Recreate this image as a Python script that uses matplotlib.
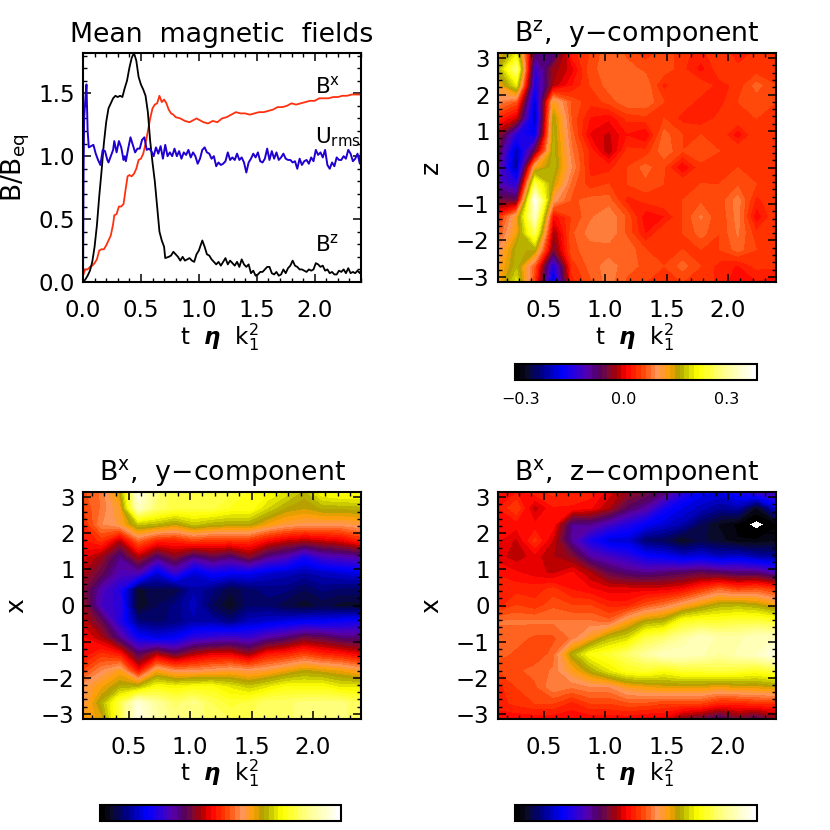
#!/usr/bin/env python3
"""Mean magnetic fields and butterfly diagrams, four panels."""

import numpy as np
import matplotlib
matplotlib.use("Agg")
import matplotlib.pyplot as plt
from matplotlib.colors import LinearSegmentedColormap, BoundaryNorm
from matplotlib.cm import ScalarMappable
from matplotlib.ticker import MultipleLocator

plt.rcParams['font.family'] = ['DejaVu Sans']
plt.rcParams['mathtext.fontset'] = 'dejavusans'
plt.rcParams['mathtext.default'] = 'regular'

# time series
bz_t = [0, .02, .04, .06, .08, .10, .12, .14, .16, .18, .20, .22, .24, .26, .28, .30, .32, .34, .36, .38, .40, .42, .44, .46, .48, .50, .52, .54, .56, .58, .60, .62, .64, .66, .68, .70, .71, .74, .76, .78, .80, .82, .84, .86, .88, .90, .92, .94, .96, .98, 1.0, 1.03, 1.05, 1.07, 1.09, 1.11, 1.13, 1.15, 1.17, 1.19, 1.21, 1.23, 1.25, 1.27, 1.29, 1.31, 1.33, 1.35, 1.37, 1.39, 1.41, 1.43, 1.45, 1.47, 1.49, 1.51, 1.53, 1.55, 1.57, 1.59, 1.61, 1.63, 1.65, 1.67, 1.69, 1.71, 1.73, 1.75, 1.77, 1.79, 1.81, 1.83, 1.85, 1.87, 1.89, 1.91, 1.93, 1.95, 1.97, 1.99, 2.01, 2.03, 2.05, 2.07, 2.09, 2.11, 2.13, 2.15, 2.17, 2.19, 2.21, 2.23, 2.25, 2.27, 2.29, 2.31, 2.33, 2.35, 2.37, 2.39, 2.40]
bz_v = [0, .02, .05, .09, .16, .28, .45, .68, .88, 1.1, 1.27, 1.38, 1.42, 1.46, 1.48, 1.47, 1.48, 1.47, 1.54, 1.6, 1.7, 1.78, 1.82, 1.76, 1.63, 1.57, 1.53, 1.48, 1.35, 1.12, .95, .8, .6, .4, .33, .28, .19, .2, .21, .24, .22, .2, .17, .2, .17, .18, .19, .17, .16, .22, .25, .33, .28, .22, .21, .18, .16, .14, .16, .13, .16, .19, .14, .17, .15, .13, .16, .12, .18, .14, .12, .14, .07, .09, .05, .06, .08, .08, .1, .12, .12, .07, .06, .08, .05, .06, .1, .07, .11, .13, .17, .13, .12, .1, .1, .09, .08, .1, .09, .1, .15, .14, .12, .13, .09, .1, .07, .08, .06, .06, .09, .08, .1, .07, .11, .07, .08, .07, .09, .07, .09]

bx_t = [0, .02, .04, .06, .08, .10, .12, .14, .16, .18, .20, .22, .24, .26, .27, .29, .31, .33, .35, .37, .385, .40, .42, .44, .46, .48, .50, .52, .54, .56, .58, .60, .62, .64, .66, .68, .70, .72, .74, .76, .78, .80, .84, .88, .92, .96, .98, 1.0, 1.04, 1.08, 1.12, 1.16, 1.20, 1.24, 1.28, 1.32, 1.36, 1.40, 1.44, 1.48, 1.52, 1.56, 1.60, 1.64, 1.68, 1.72, 1.76, 1.80, 1.84, 1.88, 1.92, 1.96, 2.0, 2.04, 2.08, 2.12, 2.16, 2.20, 2.24, 2.28, 2.32, 2.36, 2.40]
bx_v = [.05, .1, .1, .12, .13, .15, .18, .25, .26, .26, .29, .33, .37, .46, .53, .54, .6, .6, .62, .75, .84, .85, .84, .86, .9, .97, .98, 1.02, 1.1, 1.2, 1.3, 1.38, 1.41, 1.42, 1.48, 1.43, 1.45, 1.42, 1.37, 1.34, 1.33, 1.31, 1.3, 1.28, 1.27, 1.29, 1.3, 1.29, 1.27, 1.26, 1.28, 1.27, 1.3, 1.31, 1.33, 1.35, 1.34, 1.34, 1.33, 1.34, 1.35, 1.35, 1.36, 1.37, 1.39, 1.39, 1.4, 1.42, 1.41, 1.42, 1.43, 1.44, 1.44, 1.46, 1.46, 1.46, 1.47, 1.47, 1.48, 1.48, 1.49, 1.49, 1.49]

u_t = [0, .005, .01, .02, .03, .04, .05, .07, .09, .11, .13, .15, .17, .19, .21, .22, .24, .26, .27, .29, .31, .33, .35, .36, .37, .39, .41, .43, .45, .47, .49, .51, .53, .55, .57, .59, .61, .63, .65, .67, .69, .71, .73, .75, .77, .79, .81, .83, .85, .87, .89, .91, .93, .95, .97, .99, 1.01, 1.03, 1.05, 1.07, 1.09, 1.11, 1.13, 1.15, 1.17, 1.19, 1.21, 1.23, 1.25, 1.27, 1.29, 1.31, 1.33, 1.35, 1.37, 1.39, 1.41, 1.43, 1.45, 1.47, 1.49, 1.51, 1.53, 1.55, 1.57, 1.59, 1.61, 1.63, 1.65, 1.67, 1.69, 1.71, 1.73, 1.75, 1.77, 1.79, 1.81, 1.83, 1.85, 1.87, 1.89, 1.91, 1.93, 1.95, 1.97, 1.99, 2.01, 2.03, 2.05, 2.07, 2.09, 2.11, 2.13, 2.15, 2.17, 2.19, 2.21, 2.23, 2.25, 2.27, 2.29, 2.31, 2.33, 2.35, 2.37, 2.39, 2.40]
u_v = [0, .9, 1.3, 1.45, 1.57, 1.2, 1.07, 1.08, 1.09, 1.02, .97, .93, 1.05, 1.04, .97, .95, 1.0, 1.05, 1.12, 1.03, 1.12, 1.07, .97, 1.0, .96, 1.06, 1.15, 1.09, 1.03, 1.06, 1.06, 1.13, 1.15, 1.05, 1.06, 1.04, 1.0, 1.07, 1.02, 1.08, .98, 1.09, 1.0, 1.03, 1.0, 1.06, 1.0, 1.04, .98, 1.03, 1.01, 1.05, .99, 1.03, 1.0, .94, .98, 1.05, 1.07, 1.03, 1.02, .98, 1.0, .92, .95, .93, .94, .96, 1.03, .97, .99, .97, 1.02, .97, .99, .95, .87, .95, .98, 1.02, .99, 1.03, .96, .95, .98, 1.06, .97, 1.04, .98, 1.03, .97, .99, 1.02, .98, .97, .97, .95, .96, .9, .98, .93, .96, .97, .94, .99, .96, 1.05, 1.01, 1.03, .99, 1.05, .93, .9, .95, .92, .99, .97, .97, 1.0, .98, 1.05, 1.02, .96, .98, 1.02, .94, 1.04]

# contour panels: shared grid, rows run from the top of the panel down
times = [.13, .28, .43, .58, .73, .88, 1.03, 1.18, 1.33, 1.48, 1.63, 1.78, 1.93, 2.08, 2.23, 2.39]
heights = [3.14, 2.7, 2.25, 1.8, 1.35, .9, .45, 0, -.45, -.9, -1.35, -1.8, -2.25, -2.7, -3.14]

bz_y = [
    [.12, .2, -.08, -.1, .03, .05, .075, .06, .04, .06, .04, .03, .05, .025, .04, .04],
    [.16, .28, -.14, -.03, 0, .06, .07, .07, .06, .06, .04, .015, .045, .04, .04, .05],
    [.12, .2, -.16, -.02, .02, .05, .07, .075, .075, .03, .05, .045, .03, .04, .07, .05],
    [.09, .06, -.2, .12, .06, .04, .055, .075, .075, .05, .045, .03, .03, .05, .055, .05],
    [.03, -.01, -.22, .16, .06, .02, .01, .04, .045, .05, .03, .025, .04, .05, .05, .05],
    [-.03, -.15, -.18, .165, .07, .005, -.01, .02, .005, .07, .05, .05, .05, .01, .05, .05],
    [-.06, -.22, -.06, .17, .08, .03, -.02, .04, .04, .075, .05, .06, .05, .05, .05, .05],
    [-.09, -.23, .12, .17, .09, .03, .03, .05, .07, .05, .005, .045, .05, .05, .05, .05],
    [-.11, -.15, .25, .15, .07, .04, .05, .05, .06, .05, .05, .05, .05, .06, .05, .05],
    [-.05, -.06, .37, .1, .06, .07, .07, .03, .04, .05, .05, .06, .055, .085, .03, .05],
    [.03, .12, .33, .01, .05, .075, .09, .06, .01, .02, .05, .08, .05, .085, .01, .05],
    [.06, .13, .26, -.03, .06, .085, .09, .06, .02, .05, .05, .07, .05, .08, .04, .05],
    [.09, .165, .16, -.05, .06, .07, .07, .075, .05, .05, .05, .05, .05, .07, .05, .05],
    [.11, .17, .06, -.16, .04, .07, .085, .07, .06, .05, .07, .05, .03, .02, .04, .04],
    [.12, .2, .04, -.2, .03, .06, .085, .06, .05, .05, .05, .05, .03, .01, .02, .01],
]

bx_y = [
    [.06, .08, .15, .36, .28, .25, .26, .25, .25, .23, .22, .2, .17, .22, .23, .23],
    [.05, .08, .12, .33, .27, .25, .25, .25, .23, .23, .19, .16, .15, .165, .165, .17],
    [.03, .09, .11, .18, .17, .15, .18, .165, .16, .16, .13, .11, .1, .1, .1, .11],
    [.02, .04, -.02, .07, .03, .03, .05, .04, .04, .04, .01, -.01, -.02, -.01, 0, .03],
    [0, -.03, -.09, -.02, -.08, -.04, -.09, -.06, -.08, -.04, -.09, -.11, -.16, -.12, -.11, -.1],
    [-.02, -.06, -.11, -.11, -.2, -.13, -.2, -.17, -.18, -.18, -.2, -.21, -.22, -.21, -.2, -.19],
    [-.04, -.11, -.15, -.28, -.26, -.27, -.22, -.24, -.27, -.25, -.24, -.24, -.26, -.24, -.25, -.25],
    [-.03, -.12, -.14, -.29, -.26, -.24, -.21, -.26, -.29, -.25, -.25, -.27, -.28, -.27, -.28, -.28],
    [-.01, -.06, -.15, -.24, -.25, -.24, -.22, -.22, -.24, -.21, -.2, -.19, -.18, -.18, -.17, -.16],
    [.01, -.02, -.09, -.17, -.19, -.18, -.14, -.13, -.12, -.13, -.1, -.08, -.05, -.06, -.08, -.08],
    [.01, .04, .02, -.07, -.02, -.06, -.02, 0, 0, -.03, .02, .03, .05, .03, .02, 0],
    [.05, .09, .12, .01, .12, .09, .09, .1, .11, .1, .11, .13, .15, .14, .13, .11],
    [.1, .13, .165, .17, .22, .21, .22, .22, .2, .18, .2, .22, .22, .22, .2, .2],
    [.1, .165, .25, .35, .3, .27, .29, .26, .24, .25, .27, .27, .28, .28, .28, .26],
    [.12, .14, .25, .36, .31, .28, .28, .27, .26, .26, .27, .27, .28, .29, .28, .26],
]

bx_z = [
    [.01, .02, .03, .04, .03, .03, 0, -.03, -.05, -.08, -.14, -.18, -.19, -.16, -.13, -.11],
    [.02, .05, -.015, .02, .02, .01, -.02, -.07, -.1, -.16, -.19, -.21, -.23, -.22, -.29, -.2],
    [.015, .015, .01, .015, -.09, -.09, -.12, -.15, -.18, -.2, -.22, -.26, -.29, -.305, -.322, -.305],
    [.01, -.01, .04, -.01, -.1, -.16, -.2, -.2, -.25, -.26, -.29, -.27, -.28, -.3, -.3, -.29],
    [0, -.015, 0, -.02, -.04, -.1, -.12, -.14, -.17, -.18, -.2, -.19, -.21, -.2, -.22, -.23],
    [.02, .01, 0, -.01, .01, -.02, -.06, -.08, -.09, -.08, -.07, -.06, -.07, -.08, -.08, -.11],
    [.03, .03, .03, .04, .02, .01, 0, 0, 0, 0, .01, .04, .07, .05, .06, .04],
    [.03, .05, .04, .06, .05, .05, .03, .03, .06, .08, .11, .14, .165, .17, .16, .13],
    [.08, .08, .08, .08, .08, .08, .07, .12, .16, .17, .23, .24, .24, .25, .25, .24],
    [.07, .07, .06, .06, .08, .12, .17, .19, .25, .27, .3, .33, .31, .31, .33, .33],
    [.07, .06, .05, .07, .16, .22, .24, .27, .3, .33, .33, .32, .3, .32, .33, .36],
    [.05, .06, .07, .08, .12, .16, .2, .23, .24, .22, .24, .24, .25, .24, .23, .25],
    [.03, .05, .06, .09, .08, .09, .09, .12, .13, .14, .14, .14, .13, .14, .14, .15],
    [.03, .04, .05, .05, .03, .05, .05, .06, .06, .05, .05, .05, .03, .03, .04, .04],
    [.01, .01, .01, .01, .01, .01, .01, .01, 0, 0, -.04, -.06, -.09, -.05, -.08, -.04],
]

# colour scale
VMIN, VMAX = -0.315, 0.387
N_BANDS = 50
cbar_ticks = [-0.3, 0.0, 0.3]
anchors = [(0, '#000000'), (.04, '#0a0a28'), (.10, '#000082'), (.19, '#0000ff'),
           (.24, '#2800dc'), (.30, '#5a00aa'), (.34, '#500064'), (.38, '#780a3c'),
           (.42, '#aa0000'), (.46, '#ff0000'), (.52, '#ff3c00'), (.56, '#ff6e28'),
           (.59, '#ff965a'), (.64, '#ffa000'), (.68, '#aaa000'), (.72, '#d2d200'),
           (.76, '#ffff00'), (.87, '#ffff8c'), (1, '#ffffff')]
cmap = LinearSegmentedColormap.from_list('idl', anchors, N=N_BANDS)
cmap = cmap.with_extremes(under='white')
levels = np.linspace(VMIN, VMAX, N_BANDS + 1)
norm = BoundaryNorm(levels, N_BANDS)

FS = 16.5
XLABEL = r'$\mathrm{t}\ \ \boldsymbol{\eta}\ \ \mathrm{k}_1^2$'
W, H = 830, 830


def px_axes(fig, x0, y0, x1, y1):
    """Axes from pixel corners, y counted from the top."""
    return fig.add_axes([x0 / W, 1 - y1 / H, (x1 - x0) / W, (y1 - y0) / H])


def style(ax, ymajor, yminor):
    for s in ax.spines.values():
        s.set_linewidth(1.5)
    ax.xaxis.set_major_locator(MultipleLocator(0.5))
    ax.xaxis.set_minor_locator(MultipleLocator(0.1))
    ax.yaxis.set_major_locator(MultipleLocator(ymajor))
    ax.yaxis.set_minor_locator(MultipleLocator(yminor))
    ax.tick_params(which='major', direction='in', top=True, right=True, length=6, width=1.1, labelsize=FS)
    ax.tick_params(which='minor', direction='in', top=True, right=True, length=3, width=1.0)
    ax.tick_params(axis='x', which='major', pad=12)
    ax.tick_params(axis='y', which='major', pad=6)
    ax.set_xlabel(XLABEL, fontsize=FS, va='center')
    ax.xaxis.set_label_coords(0.49, -0.24)
    ax.yaxis.set_label_coords(-0.24, 0.5)


def panel(fig, box, data, title, ylabel):
    ax = px_axes(fig, *box)
    ax.contourf(times, heights, np.array(data), levels=levels, cmap=cmap, norm=norm, extend='min')
    ax.set_xlim(times[0], times[-1])
    ax.set_ylim(-3.14, 3.14)
    style(ax, 1, 0.2)
    ax.set_title(title, fontsize=19.3, pad=8)
    ax.set_ylabel(ylabel, fontsize=18, va='center')
    return ax


def colorbar(fig, box, labelled):
    cax = px_axes(fig, *box)
    cb = fig.colorbar(ScalarMappable(norm=norm, cmap=cmap), cax=cax, orientation='horizontal',
                      spacing='proportional', drawedges=False)
    cb.outline.set_linewidth(1.5)
    cb.minorticks_off()
    if labelled:
        cb.set_ticks(cbar_ticks, labels=['\u22120.3', '0.0', '0.3'])
        cax.tick_params(length=0, labelsize=11.5, pad=9)
    else:
        cb.set_ticks([])


fig = plt.figure(figsize=(8.3, 8.3), dpi=100)

ax = px_axes(fig, 83, 53, 361, 282)
ax.plot(bx_t, bx_v, color='#ff3010', lw=1.3)
ax.plot(bz_t, bz_v, color='black', lw=1.3)
ax.plot(u_t, u_v, color='#2000d0', lw=1.4)
ax.set_xlim(0, 2.4)
ax.set_ylim(0, 1.82)
style(ax, 0.5, 0.1)
ax.set_title('Mean  magnetic  fields', fontsize=19.3, pad=8)
ax.set_ylabel(r'$\mathrm{B/B_{eq}}$', fontsize=19, va='center')
ax.text(2.0, 1.5, r'$\mathrm{B^x}$', fontsize=15.5)
ax.text(2.0, 1.1, r'$\mathrm{U_{rms}}$', fontsize=15.5)
ax.text(2.0, 0.24, r'$\mathrm{B^z}$', fontsize=15.5)

panel(fig, (498, 53, 776, 282), bz_y, '$\\mathrm{B^z}$,  y\u2212component', 'z')
panel(fig, (83, 492, 361, 719), bx_y, '$\\mathrm{B^x}$,  y\u2212component', 'x')
panel(fig, (498, 492, 776, 719), bx_z, '$\\mathrm{B^x}$,  z\u2212component', 'x')

colorbar(fig, (515, 364, 757, 380), True)
colorbar(fig, (100, 805, 341, 821), False)
colorbar(fig, (515, 805, 757, 821), False)

fig.savefig('out.png', dpi=100)
